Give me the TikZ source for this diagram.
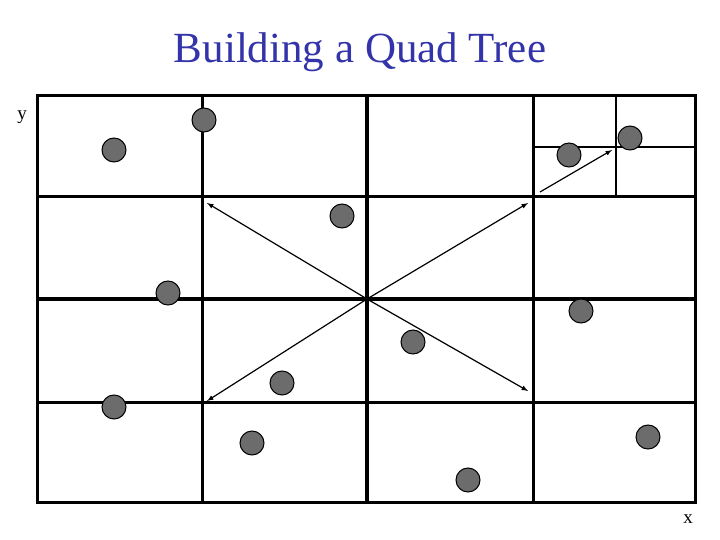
\documentclass[tikz,border=0pt]{standalone}
\usepackage{fontspec}
\setmainfont{Liberation Serif}
\definecolor{ttl}{HTML}{3333AA}
\begin{document}
\begin{tikzpicture}[x=1pt,y=-1pt,
  pt/.style={circle,draw=black,fill=gray!85!black,minimum size=24pt,inner sep=0pt,line width=1pt},
  grid/.style={line width=3pt},
  arr/.style={-latex,line width=1.2pt}]
\useasboundingbox (0,0) rectangle (720,540);
\node[text=ttl,font=\fontsize{43}{46}\selectfont] (title) at (360,52) {Building a Quad Tree};
\node[font=\fontsize{19}{22}\selectfont] (ylab) at (22,117) {y};
\node[font=\fontsize{19}{22}\selectfont] (xlab) at (688,519) {x};
\draw[grid] (37,96) rectangle (695,502);
\draw[grid] (202,96) -- (202,502);
\draw[line width=4pt] (367,96) -- (367,502);
\draw[grid] (533,96) -- (533,502);
\draw[grid] (37,197) -- (695,197);
\draw[line width=4pt] (37,299) -- (695,299);
\draw[grid] (37,402) -- (695,402);
\draw[line width=1.3pt] (616,96) -- (616,197);
\draw[line width=1.3pt] (533,147) -- (695,147);
\foreach \n/\x/\y in {a/114/150,b/204/120,c/342/216,d/168/293,e/114/407,f/282/383,g/252/443,h/413/342,i/581/311,j/648/437,k/468/480,l/569/155,m/630/138}
  \node[pt] (\n) at (\x,\y) {};
\coordinate (o) at (367,299);
\coordinate (p1) at (207,203);
\coordinate (p2) at (528,203);
\coordinate (p3) at (207,401);
\coordinate (p4) at (528,391);
\coordinate (q0) at (540,192);
\coordinate (q1) at (612,150);
\draw[arr] (o) -- (p1);
\draw[arr] (o) -- (p2);
\draw[arr] (o) -- (p3);
\draw[arr] (o) -- (p4);
\draw[arr] (q0) -- (q1);
\end{tikzpicture}
\end{document}
